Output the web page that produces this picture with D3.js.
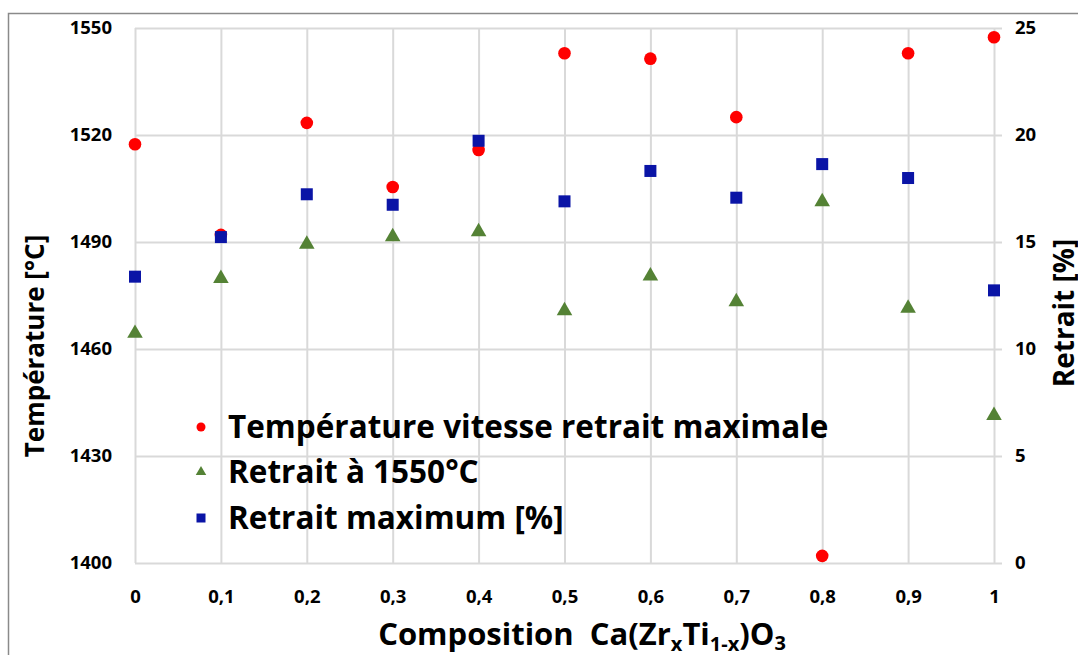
<!DOCTYPE html>
<html><head><meta charset="utf-8">
<script src="https://cdn.jsdelivr.net/npm/d3@7"></script>
<style>
html,body{margin:0;padding:0;background:#fff;}
svg{display:block;}
text{font-family:"Open Sans",Lato,sans-serif;font-weight:bold;fill:#000;}
</style></head>
<body>
<svg id="chart" width="1078" height="655"></svg>
<script>
const compositions = [0, 0.1, 0.2, 0.3, 0.4, 0.5, 0.6, 0.7, 0.8, 0.9, 1];
const tempVitesseMax = [1517.4, 1492, 1523.4, 1505.4, 1515.8, 1542.9, 1541.4, 1525, 1402, 1542.9, 1547.4];
const retrait1550 = [10.73, 13.3, 14.9, 15.25, 15.48, 11.79, 13.41, 12.21, 16.88, 11.9, 6.89];
const retraitMax = [13.38, 15.23, 17.23, 16.74, 19.73, 16.9, 18.32, 17.07, 18.64, 17.99, 12.74];
const xTickValues = [0, 0.1, 0.2, 0.3, 0.4, 0.5, 0.6, 0.7, 0.8, 0.9, 1];
const xTickLabels = ["0", "0,1", "0,2", "0,3", "0,4", "0,5", "0,6", "0,7", "0,8", "0,9", "1"];
const leftTicks = [1400, 1430, 1460, 1490, 1520, 1550];
const rightTicks = [0, 5, 10, 15, 20, 25];
const seriesNames = ["Température vitesse retrait maximale", "Retrait à 1550°C", "Retrait maximum [%]"];
const seriesColors = ["#ff0000", "#548235", "#0a14a6"];

const FONT = "'Open Sans', Lato, sans-serif";
const svg = d3.select("#chart");
const L = 135, R = 994, T = 28, B = 563;
const x = d3.scaleLinear().domain([0, 1]).range([L, R]);
const yL = d3.scaleLinear().domain([1400, 1550]).range([B, T]);
const yR = d3.scaleLinear().domain([0, 25]).range([B, T]);

svg.append("rect").attr("width", 1078).attr("height", 655).attr("fill", "#fff");
svg.append("rect").attr("x", 8.5).attr("y", 13.5).attr("width", 1200).attr("height", 800)
  .attr("fill", "none").attr("stroke", "#8a8a8a").attr("stroke-width", 1.5);

// gridlines via axes
const gx = svg.append("g").attr("transform", `translate(0,${B})`)
  .call(d3.axisBottom(x).tickValues(xTickValues).tickSize(-(B - T)).tickFormat(""));
const gy = svg.append("g").attr("transform", `translate(${R + 8},0)`)
  .call(d3.axisLeft(yR).tickValues(rightTicks).tickSize(R + 8 - L).tickFormat(""));
[gx, gy].forEach(g => {
  g.select(".domain").remove();
  g.selectAll(".tick line").attr("stroke", "#d9d9d9").attr("stroke-width", 2);
});

function styleLabels(g) {
  g.select(".domain").remove();
  g.selectAll("text").attr("font-size", 18.5).attr("font-family", FONT).attr("font-weight", "bold").attr("fill", "#000");
}
// left tick labels
const gl = svg.append("g").attr("transform", `translate(${L},0)`)
  .call(d3.axisLeft(yL).tickValues(leftTicks).tickSize(0).tickPadding(23).tickFormat(d3.format("d")));
styleLabels(gl);
// right tick labels
const gr = svg.append("g").attr("transform", `translate(${R},0)`)
  .call(d3.axisRight(yR).tickValues(rightTicks).tickSize(0).tickPadding(21).tickFormat(d3.format("d")));
styleLabels(gr);
// bottom tick labels
const gb = svg.append("g").attr("transform", `translate(0,${B})`)
  .call(d3.axisBottom(x).tickValues(xTickValues).tickSize(0).tickPadding(27).tickFormat((d, i) => xTickLabels[i]));
styleLabels(gb);

// series
const tri = d3.symbol().type(d3.symbolTriangle).size(105);
svg.append("g").selectAll("path").data(compositions).join("path")
  .attr("d", tri).attr("fill", seriesColors[1])
  .attr("transform", (d, i) => `translate(${x(d)},${yR(retrait1550[i])})`);
svg.append("g").selectAll("circle").data(compositions).join("circle")
  .attr("cx", d => x(d)).attr("cy", (d, i) => yL(tempVitesseMax[i])).attr("r", 6.3).attr("fill", seriesColors[0]);
svg.append("g").selectAll("rect").data(compositions).join("rect")
  .attr("x", d => x(d) - 6).attr("y", (d, i) => yR(retraitMax[i]) - 6).attr("width", 12).attr("height", 12)
  .attr("fill", seriesColors[2]);

// legend
const lg = svg.append("g");
const ly = [427, 472, 518];
seriesNames.forEach((name, i) => {
  const g = lg.append("g").attr("transform", `translate(201,${ly[i]})`);
  if (i === 0) g.append("circle").attr("r", 4.5).attr("fill", seriesColors[0]);
  if (i === 1) g.append("path").attr("d", d3.symbol().type(d3.symbolTriangle).size(48)).attr("fill", seriesColors[1]);
  if (i === 2) g.append("rect").attr("x", -4.5).attr("y", -4.5).attr("width", 9).attr("height", 9).attr("fill", seriesColors[2]);
  g.append("text").attr("x", 27).attr("y", 0).attr("dy", "0.36em").attr("font-size", 31.5).text(name);
});

// axis titles
svg.append("text").attr("transform", "translate(44,346) rotate(-90)").attr("text-anchor", "middle")
  .attr("font-size", 26).text("Température [°C]");
svg.append("text").attr("transform", "translate(1074,313) rotate(-90)").attr("text-anchor", "middle")
  .attr("font-size", 28).text("Retrait [%]");
const xt = svg.append("text").attr("x", 582).attr("y", 645).attr("text-anchor", "middle").attr("font-size", 31);
xt.append("tspan").text("Composition\u00a0\u00a0Ca(Zr");
xt.append("tspan").attr("font-size", 20).attr("dy", 6).text("x");
xt.append("tspan").attr("dy", -6).text("Ti");
xt.append("tspan").attr("font-size", 20).attr("dy", 6).text("1-x");
xt.append("tspan").attr("dy", -6).text(")O");
xt.append("tspan").attr("font-size", 20).attr("dy", 5).text("3");
</script>
</body></html>
